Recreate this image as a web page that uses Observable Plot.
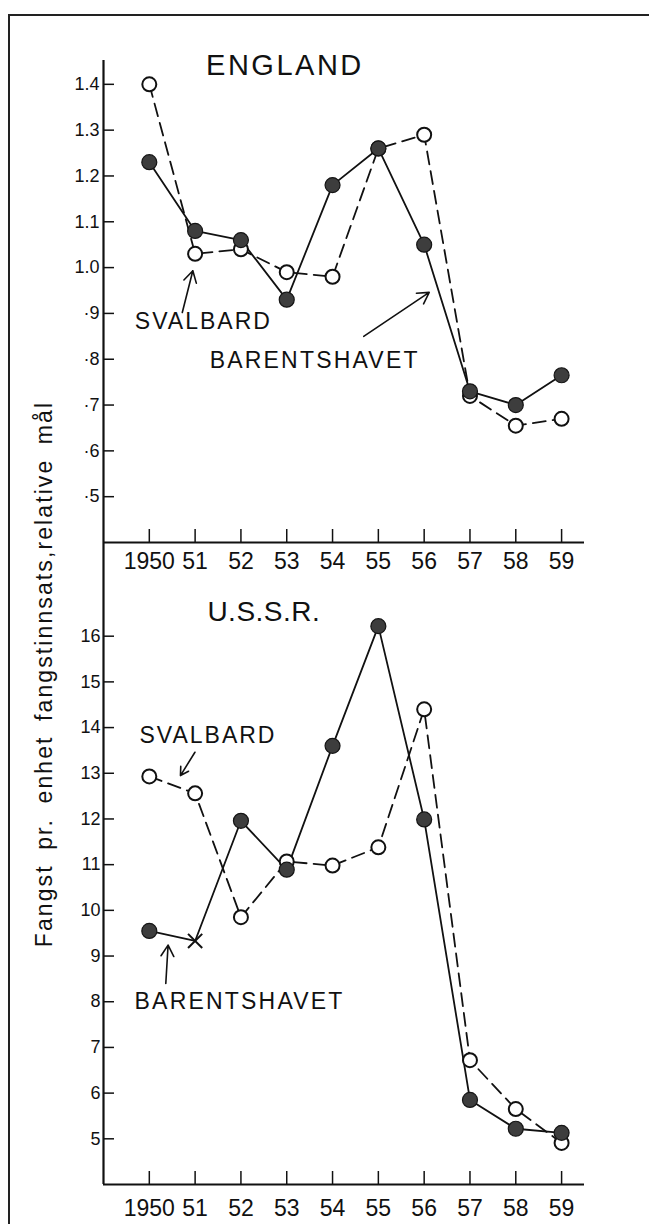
<!DOCTYPE html>
<html><head><meta charset="utf-8">
<script src="https://cdn.jsdelivr.net/npm/d3@7"></script>
<script src="https://cdn.jsdelivr.net/npm/@observablehq/plot@0.6"></script>
<style>
html,body{margin:0;background:#fff;overflow:hidden;}
#wrap{position:relative;width:649px;height:1224px;overflow:hidden;font-family:"Liberation Sans",Arial,sans-serif;color:#111;}
#frame{position:absolute;left:8px;top:14px;width:700px;height:1300px;border-top:2px solid #222;border-left:2px solid #222;}
#topc{position:absolute;left:0;top:0;}
#botc{position:absolute;left:0;top:590px;}
#ylab{position:absolute;left:-306px;top:660px;width:700px;height:28px;line-height:28px;text-align:center;font-size:23px;letter-spacing:2.1px;word-spacing:6px;transform:rotate(-90deg);transform-origin:50% 50%;white-space:nowrap;}
svg{overflow:visible;}
</style></head>
<body>
<div id="wrap">
  <div id="frame"></div>
  <div id="topc"></div>
  <div id="botc"></div>
  <div id="ylab">Fangst pr. enhet fangstinnsats,relative mål</div>
</div>
<script>
// ---- data ----
const years = [1950, 1951, 1952, 1953, 1954, 1955, 1956, 1957, 1958, 1959];
const yearLabels = ["1950", "51", "52", "53", "54", "55", "56", "57", "58", "59"];

const englandSvalbard = [1.40, 1.03, 1.04, 0.99, 0.98, 1.26, 1.29, 0.72, 0.655, 0.67];
const englandBarents  = [1.23, 1.08, 1.06, 0.93, 1.18, 1.26, 1.05, 0.73, 0.70, 0.765];
const englandTicks = [1.4, 1.3, 1.2, 1.1, 1.0, 0.9, 0.8, 0.7, 0.6, 0.5];
const englandTickLabels = ["1.4", "1.3", "1.2", "1.1", "1.0", "·9", "·8", "·7", "·6", "·5"];

const ussrSvalbard = [12.93, 12.56, 9.85, 11.07, 10.98, 11.38, 14.40, 6.72, 5.65, 4.91];
const ussrBarents  = [9.55, 9.33, 11.96, 10.89, 13.60, 16.22, 11.99, 5.85, 5.22, 5.13];
const ussrBarentsCrossed = [false, true, false, false, false, false, false, false, false, false];
const ussrTicks = [5, 6, 7, 8, 9, 10, 11, 12, 13, 14, 15, 16];
const ussrTickLabels = ["5", "6", "7", "8", "9", "10", "11", "12", "13", "14", "15", "16"];

// ---- tables ----
const rows = (vals, extra) => years.map((year, i) => ({year, value: vals[i], ...(extra ? extra(i) : {})}));
const engS = rows(englandSvalbard), engB = rows(englandBarents);
const ussS = rows(ussrSvalbard), ussB = rows(ussrBarents, i => ({crossed: ussrBarentsCrossed[i]}));

const FONT = '"Liberation Sans", Arial, sans-serif';
const INK = "#111";
const DASH = "13,7";
const common = {
  width: 649, marginLeft: 103, marginRight: 65,
  x: {domain: [1949, 1959.5]},
  style: {fontFamily: FONT, color: INK, background: "transparent", overflow: "visible"}
};
const seriesMarks = (S, B, opts = {}) => [
  Plot.lineY(S, {x: "year", y: "value", stroke: INK, strokeWidth: 1.8, strokeDasharray: DASH}),
  Plot.lineY(B, {x: "year", y: "value", stroke: INK, strokeWidth: 1.8}),
  Plot.dot(S, {x: "year", y: "value", r: 7, fill: "white", stroke: INK, strokeWidth: 2}),
  Plot.dot(B, {x: "year", y: "value", r: 7.5, fill: "#3d3d3d", stroke: "#151515", strokeWidth: 1.2,
    filter: opts.crossFilter ? d => !d.crossed : undefined}),
  ...(opts.crossFilter ? [Plot.dot(B, {x: "year", y: "value", filter: d => d.crossed, symbol: "times", r: 6.5, stroke: INK, strokeWidth: 2})] : [])
];
const axes = (ticks, labels, yPad, xPad) => [
  Plot.axisY(ticks, {tickSize: -11, tickPadding: yPad, tickFormat: d => labels[ticks.indexOf(d)], fontSize: 18, strokeWidth: 1.5, label: null}),
  Plot.axisX(years, {tickSize: -13, tickPadding: xPad, tickFormat: d => yearLabels[years.indexOf(d)], fontSize: 23, strokeWidth: 1.5, label: null})
];

// ---- ENGLAND ----
const topPlot = Plot.plot({
  ...common, height: 590, marginTop: 60, marginBottom: 48,
  y: {domain: [0.4, 1.452]},
  marks: [
    ...axes(englandTicks, englandTickLabels, 15, 23),
    Plot.ruleY([0.4], {stroke: INK, strokeWidth: 2.2}),
    Plot.ruleX([1949], {stroke: INK, strokeWidth: 2.2, insetBottom: -48}),
    ...seriesMarks(engS, engB),
    Plot.text(["ENGLAND"], {x: 1952.96, y: 1.4415, fontSize: 29, fill: INK}),
    Plot.text(["SVALBARD"], {x: 1951.18, y: 0.881, fontSize: 23, fill: INK}),
    Plot.arrow([0], {x1: 1950.72, y1: 0.902, x2: 1950.95, y2: 0.993, stroke: INK, strokeWidth: 1.6, headLength: 12}),
    Plot.text(["BARENTSHAVET"], {x: 1953.61, y: 0.797, fontSize: 23, fill: INK}),
    Plot.arrow([0], {x1: 1954.68, y1: 0.85, x2: 1956.11, y2: 0.946, stroke: INK, strokeWidth: 1.6, headLength: 12})
  ]
});

// ---- U.S.S.R. ----
const botPlot = Plot.plot({
  ...common, height: 634, marginTop: 0, marginBottom: 40,
  y: {domain: [4, 17]},
  marks: [
    ...axes(ussrTicks, ussrTickLabels, 14, 28),
    Plot.ruleY([4], {stroke: INK, strokeWidth: 2.2}),
    Plot.ruleX([1949], {stroke: INK, strokeWidth: 2.2}),
    ...seriesMarks(ussS, ussB, {crossFilter: true}),
    Plot.text(["U.S.S.R."], {x: 1952.5, y: 16.52, fontSize: 28, fill: INK}),
    Plot.text(["SVALBARD"], {x: 1951.28, y: 13.82, fontSize: 23, fill: INK}),
    Plot.arrow([0], {x1: 1950.996, y1: 13.46, x2: 1950.68, y2: 12.95, stroke: INK, strokeWidth: 1.6, headLength: 12}),
    Plot.text(["BARENTSHAVET"], {x: 1951.97, y: 8.0, fontSize: 23, fill: INK}),
    Plot.arrow([0], {x1: 1950.36, y1: 8.40, x2: 1950.41, y2: 9.24, stroke: INK, strokeWidth: 1.6, headLength: 12})
  ]
});

document.getElementById("topc").appendChild(topPlot);
document.getElementById("botc").appendChild(botPlot);

// letter spacing for the stencil-like lettering
const spacing = {"ENGLAND": 2.5, "SVALBARD": 2, "BARENTSHAVET": 2.2, "U.S.S.R.": 0.5};
d3.selectAll("svg text").each(function () {
  const t = this.textContent;
  if (t in spacing) d3.select(this).attr("letter-spacing", spacing[t]);
});
</script>
</body></html>
